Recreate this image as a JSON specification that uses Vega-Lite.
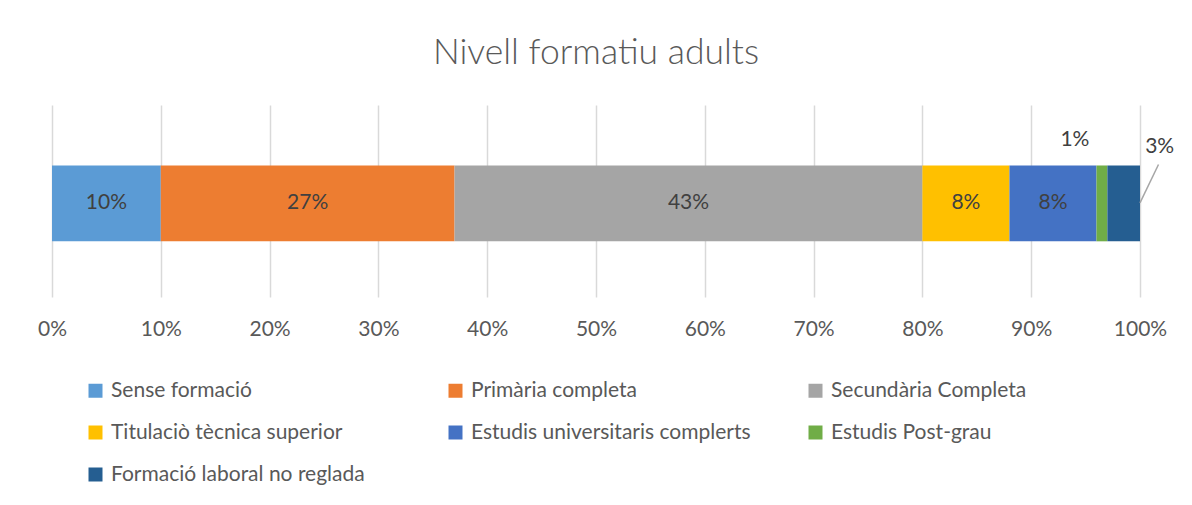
{
  "$schema": "https://vega.github.io/schema/vega-lite/v6.json",
  "autosize": {"type": "none"},
  "width": 1088,
  "height": 192,
  "padding": {"left": 52, "top": 105, "right": 52, "bottom": 208},
  "background": "white",
  "title": {
    "text": "Nivell formatiu adults",
    "anchor": "middle",
    "frame": "group",
    "offset": 34,
    "font": "Lato",
    "fontSize": 35.5,
    "fontWeight": 300,
    "color": "#595959"
  },
  "data": {
    "values": [
      {"cat": "Sense formació", "value": 10, "order": 1},
      {"cat": "Primària completa", "value": 27, "order": 2},
      {"cat": "Secundària Completa", "value": 43, "order": 3},
      {"cat": "Titulaciò tècnica superior", "value": 8, "order": 4},
      {"cat": "Estudis universitaris complerts", "value": 8, "order": 5},
      {"cat": "Estudis Post-grau", "value": 1, "order": 6},
      {"cat": "Formació laboral no reglada", "value": 3, "order": 7}
    ]
  },
  "transform": [
    {"stack": "value", "groupby": [], "sort": [{"field": "order"}], "as": ["v0", "v1"]},
    {"calculate": "(datum.v0 + datum.v1) / 2", "as": "mid"},
    {"calculate": "datum.value + '%'", "as": "label"}
  ],
  "layer": [
    {
      "mark": {"type": "bar", "clip": false},
      "encoding": {
        "x": {
          "field": "v0",
          "type": "quantitative",
          "scale": {"domain": [0, 100], "nice": false},
          "axis": {
            "values": [0, 10, 20, 30, 40, 50, 60, 70, 80, 90, 100],
            "labelExpr": "datum.value + '%'",
            "labelFlush": false,
            "grid": true,
            "gridColor": "#d9d9d9",
            "gridWidth": 1.5,
            "domain": false,
            "ticks": false,
            "labelPadding": 21,
            "labelFont": "Lato",
            "labelFontSize": 21,
            "labelColor": "#595959",
            "title": null
          }
        },
        "x2": {"field": "v1"},
        "y": {"datum": 0.29, "type": "quantitative", "scale": {"domain": [0, 1], "nice": false}, "axis": null},
        "y2": {"datum": 0.685},
        "color": {
          "field": "cat",
          "type": "nominal",
          "sort": ["Sense formació", "Primària completa", "Secundària Completa", "Titulaciò tècnica superior", "Estudis universitaris complerts", "Estudis Post-grau", "Formació laboral no reglada"],
          "scale": {
            "domain": ["Sense formació", "Primària completa", "Secundària Completa", "Titulaciò tècnica superior", "Estudis universitaris complerts", "Estudis Post-grau", "Formació laboral no reglada"],
            "range": ["#5B9BD5", "#ED7D31", "#A5A5A5", "#FFC000", "#4472C4", "#70AD47", "#255E91"]
          },
          "legend": {
            "title": null,
            "orient": "none",
            "legendX": 33,
            "legendY": 275,
            "direction": "horizontal",
            "columns": 3,
            "gridAlign": "all",
            "columnPadding": 54,
            "rowPadding": 20,
            "padding": 0,
            "symbolType": "square",
            "symbolSize": 196,
            "symbolStrokeWidth": 0,
            "labelOffset": 5,
            "labelFont": "Lato",
            "labelFontSize": 21,
            "labelColor": "#595959",
            "labelLimit": 400
          }
        },
        "order": {"field": "order"}
      }
    },
    {
      "transform": [{"filter": "datum.value >= 5"}],
      "mark": {"type": "text", "font": "Lato", "fontSize": 21, "color": "#404040", "baseline": "middle", "align": "center"},
      "encoding": {
        "x": {"field": "mid", "type": "quantitative"},
        "y": {"datum": 0.49, "type": "quantitative"},
        "text": {"field": "label"}
      }
    },
    {
      "transform": [{"filter": "datum.cat == 'Estudis Post-grau'"}],
      "mark": {"type": "text", "font": "Lato", "fontSize": 21, "color": "#404040", "baseline": "middle", "align": "center", "dx": -27},
      "encoding": {
        "x": {"field": "mid", "type": "quantitative"},
        "y": {"datum": 0.82, "type": "quantitative"},
        "text": {"field": "label"}
      }
    },
    {
      "transform": [{"filter": "datum.cat == 'Formació laboral no reglada'"}],
      "mark": {"type": "text", "font": "Lato", "fontSize": 21, "color": "#404040", "baseline": "middle", "align": "center", "dx": 36},
      "encoding": {
        "x": {"field": "mid", "type": "quantitative"},
        "y": {"datum": 0.78, "type": "quantitative"},
        "text": {"field": "label"}
      }
    },
    {
      "transform": [{"filter": "datum.cat == 'Formació laboral no reglada'"}],
      "mark": {"type": "rule", "color": "#a6a6a6", "strokeWidth": 1.5, "clip": false},
      "encoding": {
        "x": {"field": "v1", "type": "quantitative"},
        "x2": {"datum": 101.7},
        "y": {"datum": 0.49, "type": "quantitative"},
        "y2": {"datum": 0.69}
      }
    }
  ],
  "config": {"view": {"stroke": null}}
}
